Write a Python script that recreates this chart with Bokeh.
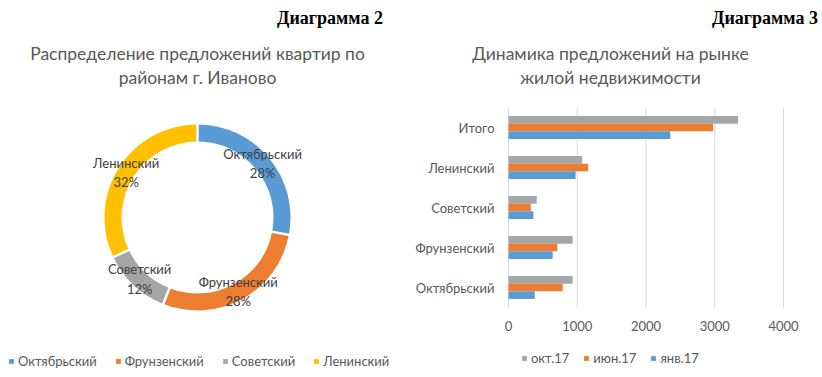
import numpy as np
from bokeh.plotting import figure
from bokeh.models import Range1d, Legend, LegendItem, ColumnDataSource
from bokeh.layouts import row
from bokeh.embed import file_html
from bokeh.resources import INLINE
from bokeh.core.properties import value

# ---------------- data ----------------
districts = ["Октябрьский", "Фрунзенский", "Советский", "Ленинский"]
shares = [28, 28, 12, 32]
share_colors = ["#5B9BD5", "#ED7D31", "#A5A5A5", "#FFC000"]

bar_categories = ["Октябрьский", "Фрунзенский", "Советский", "Ленинский", "Итого"]
oct17 = [932, 932, 411, 1072, 3338]
jun17 = [787, 710, 324, 1159, 2976]
jan17 = [382, 643, 362, 976, 2353]
series_names = ["окт.17", "июн.17", "янв.17"]
series_colors = ["#A5A5A5", "#ED7D31", "#5B9BD5"]
x_ticks = [0, 1000, 2000, 3000, 4000]

FONT = "Lato"
TITLE_SIZE = "17.5px"
LABEL_SIZE = "13px"
GREY_TXT = "#595959"
HEAD_FONT = "Liberation Serif"
HEAD_SIZE = "18px"

W, H = 411, 377

# ---------------- left: doughnut (frame = whole canvas, 1 unit = 1 px) ----------------
p1 = figure(width=W, height=H, x_range=Range1d(0, W), y_range=Range1d(0, H),
            output_backend="svg", toolbar_location=None, min_border=0,
            x_axis_type=None, y_axis_type=None)
p1.frame_align = False
p1.outline_line_color = None

cx, cy, r_in, r_out = 197, 160, 76, 93
frac = np.array(shares, dtype=float) / sum(shares)
cum = np.concatenate([[0.0], np.cumsum(frac)])
start = np.pi / 2 - 2 * np.pi * cum[1:]
end = np.pi / 2 - 2 * np.pi * cum[:-1]
mid = np.pi / 2 - 2 * np.pi * (cum[:-1] + cum[1:]) / 2
r_mid = (r_in + r_out) / 2
pie_src = ColumnDataSource(dict(
    name=districts, start=start, end=end, color=share_colors,
    lx=cx + r_mid * np.cos(mid), ly=cy + r_mid * np.sin(mid),
    lab=[f"{n}\n{s}%" for n, s in zip(districts, shares)]))
wedges = p1.annular_wedge(x=cx, y=cy, inner_radius=r_in, outer_radius=r_out,
                          start_angle="start", end_angle="end",
                          fill_color="color", line_color=None, source=pie_src)
# white separators between slices
bnd = np.pi / 2 - 2 * np.pi * cum[:-1]
p1.segment(x0=cx + (r_in - 2) * np.cos(bnd), y0=cy + (r_in - 2) * np.sin(bnd),
           x1=cx + (r_out + 2) * np.cos(bnd), y1=cy + (r_out + 2) * np.sin(bnd),
           line_color="white", line_width=2.5)
p1.text(x="lx", y="ly", text="lab", source=pie_src, text_align="center",
        text_baseline="middle", text_font=value(FONT), text_font_size=LABEL_SIZE,
        text_color="#404040", text_line_height=1.2)

p1.text(x=[329.5], y=[360], text=["Диаграмма 2"], text_align="center",
        text_baseline="middle", text_font=value(HEAD_FONT), text_font_size=HEAD_SIZE,
        text_font_style="bold", text_color="black")
p1.text(x=[197, 197], y=[324, 300],
        text=["Распределение предложений квартир по", "районам г. Иваново"],
        text_align="center", text_baseline="middle", text_font=value(FONT),
        text_font_size=TITLE_SIZE, text_color=GREY_TXT)

leg1 = Legend(items=[LegendItem(label=d, renderers=[wedges], index=i)
                     for i, d in enumerate(districts)],
              orientation="horizontal", location=(8, 8),
              glyph_width=6, glyph_height=6, label_height=14, label_standoff=4,
              spacing=18, padding=0, margin=0, border_line_color=None,
              background_fill_alpha=0, label_text_font=FONT,
              label_text_font_size=LABEL_SIZE, label_text_color=GREY_TXT)
p1.add_layout(leg1)

# ---------------- right: grouped bars (frame = whole canvas) ----------------
# value axis: 0 at page x 508, 4000 at page x 783 ; category i at page y 287 - 40 i
ppu = 275 / 4000.0
def dx(page_x):
    return (page_x - 508) / ppu
def dy(page_y):
    return (287 - page_y) / 40.0

idx = np.arange(len(bar_categories))
p2 = figure(width=W, height=H, x_range=Range1d(dx(411), dx(822)),
            y_range=Range1d(dy(377), dy(0)), output_backend="svg",
            toolbar_location=None, min_border=0, x_axis_type=None, y_axis_type=None)
p2.frame_align = False
p2.outline_line_color = None

p2.segment(x0=x_ticks, x1=x_ticks, y0=[idx[0] - 0.5] * len(x_ticks),
           y1=[idx[-1] + 0.5] * len(x_ticks), line_color="#D9D9D9", line_width=1)

bh = 0.19
rends = []
for vals, off, col in [(oct17, bh, series_colors[0]), (jun17, 0.0, series_colors[1]),
                       (jan17, -bh, series_colors[2])]:
    rends.append(p2.hbar(y=idx + off, left=0, right=vals, height=bh,
                         fill_color=col, line_color=None))

# axis tick labels
p2.text(x=[dx(494)] * len(idx), y=idx, text=bar_categories, text_align="right",
        text_baseline="middle", text_font=value(FONT), text_font_size=LABEL_SIZE,
        text_color=GREY_TXT)
p2.text(x=x_ticks, y=[dy(325)] * len(x_ticks), text=[str(t) for t in x_ticks],
        text_align="center", text_baseline="middle", text_font=value(FONT),
        text_font_size=LABEL_SIZE, text_color=GREY_TXT)

# titles
p2.text(x=[dx(764.5)], y=[dy(17)], text=["Диаграмма 3"], text_align="center",
        text_baseline="middle", text_font=value(HEAD_FONT), text_font_size=HEAD_SIZE,
        text_font_style="bold", text_color="black")
p2.text(x=[dx(610), dx(610)], y=[dy(53), dy(77)],
        text=["Динамика предложений на рынке", "жилой недвижимости"],
        text_align="center", text_baseline="middle", text_font=value(FONT),
        text_font_size=TITLE_SIZE, text_color=GREY_TXT)

leg2 = Legend(items=[LegendItem(label=n, renderers=[r]) for n, r in zip(series_names, rends)],
              orientation="horizontal", location=(110, 11),
              glyph_width=6, glyph_height=6, label_height=14, label_standoff=4,
              spacing=14, padding=0, margin=0, border_line_color=None,
              background_fill_alpha=0, label_text_font=FONT,
              label_text_font_size=LABEL_SIZE, label_text_color=GREY_TXT)
p2.add_layout(leg2)

layout = row(p1, p2)
open("out.html", "w").write(file_html(layout, INLINE))
